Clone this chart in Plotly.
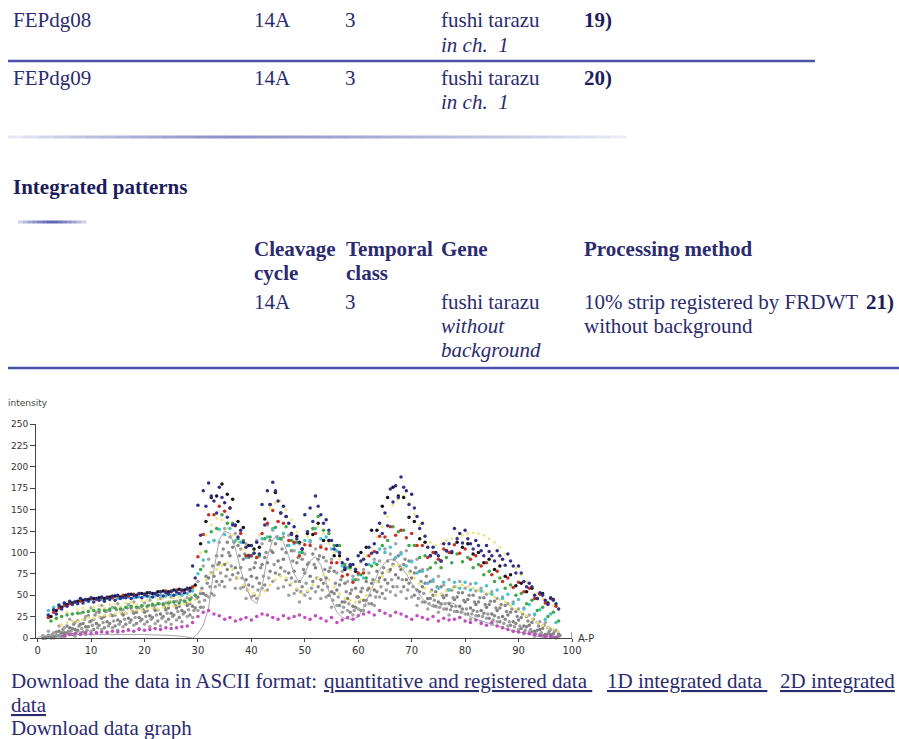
import plotly.graph_objects as go

W, H = 899, 739

# ---------------- data ----------------
X_POS = list(range(1, 98))            # A-P position sampled (% egg length)
X_POS_B = [p + 0.5 for p in X_POS]    # second set of nuclei positions
X_POS_C = [p + 0.25 for p in X_POS]   # third set of nuclei positions
X_POS_D = [p + 0.75 for p in X_POS]   # fourth set of nuclei positions

Y_TICKS = [0, 25, 50, 75, 100, 125, 150, 175, 200, 225, 250]
X_TICKS = [0, 10, 20, 30, 40, 50, 60, 70, 80, 90, 100]

NAVY_A = [None, 27, 33, 38, 41, 43, 42, 46, 45, 47,
          46, 48, 47, 49, 50, 48, 51, 50, 52, 51,
          53, 52, 54, 53, 55, 54, 56, 58, 84, 155,
          172, 181, 160, 176, 158, 152, 132, 126, 106, 108,
          112, 156, 172, 182, 160, 154, 134, 130, 112, 144,
          152, 166, 144, 138, 114, 108, 88, 92, 86, 96,
          92, 106, 110, 134, 146, 174, 178, 188, 172, 168,
          142, 134, 106, 106, 96, 110, 110, 128, 122, 126,
          110, 114, 102, 108, 96, 102, 92, 98, 84, 84,
          66, 64, 50, 53, 44, 47, 40]
NAVY_B = [None, None, 28, 34, 37, 39, 40, 41, 43, 42,
          44, 43, 45, 44, 46, 47, 46, 48, 47, 49,
          48, 50, 49, 51, 50, 52, 53, 55, 70, 120,
          154, 166, 146, 164, 141, 132, 118, 112, 96, 99,
          98, 132, 156, 172, 146, 142, 121, 116, 104, 124,
          136, 154, 134, 126, 104, 100, 82, 86, 80, 90,
          86, 99, 100, 122, 131, 159, 164, 176, 156, 152,
          128, 119, 96, 99, 90, 102, 101, 116, 111, 116,
          104, 108, 96, 101, 90, 96, 85, 90, 76, 76,
          60, 60, 46, 50, 39, 44, 34]
BLACK = [None, 25, 32, 36, 39, 41, 43, 44, 45, 46,
         47, 46, 48, 49, 48, 50, 51, 50, 52, 53,
         52, 54, 55, 54, 56, 57, 56, 58, 62, 110,
         136, 164, 166, 180, 168, 162, 136, 129, 108, 104,
         106, 139, 156, 170, 146, 142, 122, 119, 104, 122,
         121, 134, 114, 114, 96, 96, 80, 84, 78, 100,
         106, 126, 126, 154, 164, 176, 166, 164, 141, 136,
         116, 112, 96, 100, 90, 102, 100, 112, 106, 110,
         98, 100, 88, 92, 80, 84, 72, 74, 61, 64,
         54, 58, 46, 52, 41, 45, None]
RED = [None, 24, 30, 35, 38, 40, 42, 43, 45, 46,
       45, 47, 48, 47, 49, 50, 49, 51, 52, 51,
       53, 52, 54, 55, 54, 56, 55, 57, 60, 95,
       121, 144, 144, 154, 148, 152, 131, 122, 96, 96,
       94, 122, 134, 149, 136, 134, 114, 112, 96, 109,
       108, 122, 106, 104, 88, 88, 72, 74, 65, 76,
       76, 96, 101, 119, 118, 130, 120, 126, 117, 122,
       108, 108, 94, 100, 92, 104, 100, 109, 99, 104,
       92, 96, 84, 88, 74, 78, 66, 70, 59, 65,
       54, 58, 46, 51, 41, 46, 37]
GREEN = [None, 20, 23, 25, 27, 28, 29, 30, 31, 32,
         33, 32, 34, 35, 34, 36, 37, 36, 38, 37,
         39, 40, 39, 41, 42, 41, 43, 45, 50, 80,
         101, 124, 128, 144, 134, 134, 116, 114, 96, 99,
         96, 116, 118, 129, 116, 130, 114, 112, 100, 124,
         128, 142, 126, 122, 108, 108, 86, 82, 68, 74,
         70, 84, 86, 108, 114, 130, 124, 126, 108, 108,
         94, 96, 82, 88, 82, 94, 88, 98, 89, 94,
         82, 86, 74, 78, 66, 70, 58, 62, 50, 52,
         40, 44, 32, 36, 25, 30, 20]
CYAN = [None, 32, 36, 39, 41, 42, 43, 44, 44, 45,
        46, 45, 46, 47, 46, 47, 48, 47, 48, 49,
        48, 49, 50, 49, 50, 51, 50, 52, 55, 75,
        91, 112, 114, 127, 121, 128, 114, 112, 94, 96,
        94, 116, 118, 128, 116, 122, 108, 110, 100, 114,
        114, 128, 116, 118, 104, 102, 84, 82, 68, 74,
        70, 86, 88, 104, 100, 106, 94, 98, 84, 89,
        76, 78, 64, 68, 58, 65, 56, 65, 58, 65,
        56, 64, 55, 61, 51, 56, 46, 51, 40, 45,
        34, 39, 28, 33, 22, 28, 18]
YELLOW_A = [None, None, 22, 26, 30, 28, 33, 35, 32, 36,
            38, 35, 39, 40, 37, 41, 42, 39, 43, 44,
            41, 45, 46, 43, 47, 48, 45, 50, 60, 100,
            120, 132, 140, 138, 128, 120, 112, 104, 98, 102,
            120, 140, 152, 158, 160, 150, 138, 124, 112, 118,
            126, 130, 122, 110, 100, 92, 84, 80, 82, 88,
            96, 105, 118, 130, 142, 155, 162, 166, 158, 145,
            132, 120, 112, 108, 110, 114, 116, 118, 120, 122,
            123, 122, 120, 116, 112, 106, 98, 90, 82, 74,
            66, 58, 52, 46, 42, 38, 34]
YELLOW_B = [None, None, None, 15, 18, 20, 19, 22, 24, 23,
            25, 27, 26, 28, 30, 29, 31, 33, 32, 34,
            35, 34, 36, 38, 37, 39, 40, 42, 45, 55,
            68, 75, 80, 85, 88, 80, 70, 62, 56, 52,
            50, 55, 62, 68, 72, 70, 64, 58, 52, 55,
            62, 70, 74, 68, 60, 52, 46, 44, 42, 45,
            50, 58, 66, 72, 78, 84, 86, 82, 76, 70,
            64, 58, 54, 50, 52, 55, 58, 60, 62, 60,
            58, 56, 54, 52, 48, 45, 42, 38, 34, 30,
            26, 22, 18, 15, 12, 10, 8]
MAGENTA = [None, None, None, None, 3, 4, 5, 4, 6, 5,
           6, 7, 6, 8, 7, 8, 9, 8, 10, 9,
           10, 11, 10, 12, 11, 12, 13, 14, 18, 25,
           30, 32, 28, 26, 22, 24, 20, 22, 24, 21,
           25, 28, 27, 24, 22, 26, 23, 25, 27, 24,
           22, 26, 23, 20, 24, 18, 21, 24, 22, 26,
           28, 30, 27, 32, 29, 26, 30, 28, 25, 22,
           26, 24, 22, 25, 20, 23, 21, 22, 24, 20,
           18, 21, 17, 15, 18, 14, 12, 10, 8, 7,
           6, 5, 4, 3, 2, 2, 1]
GRAY_1 = [3, 8, 6, 14, 12, 22, 18, 29, 25, 35,
          30, 38, 32, 36, 40, 33, 39, 42, 35, 41,
          44, 38, 46, 41, 48, 43, 51, 47, 58, 66,
          84, 92, 114, 112, 128, 118, 122, 104, 110, 96,
          114, 110, 132, 126, 136, 118, 120, 102, 110, 98,
          112, 104, 108, 90, 92, 76, 78, 66, 72, 68,
          80, 76, 92, 90, 104, 98, 110, 100, 102, 90,
          92, 80, 80, 66, 72, 62, 68, 60, 66, 58,
          63, 55, 58, 51, 54, 46, 48, 40, 42, 34,
          35, 27, 27, 19, 18, 10, 9]
GRAY_2 = [1, 2, 7, 6, 14, 11, 20, 17, 26, 22,
          30, 25, 32, 27, 34, 29, 35, 30, 37, 32,
          38, 33, 40, 35, 42, 37, 44, 40, 50, 52,
          72, 76, 96, 96, 112, 106, 108, 92, 94, 82,
          96, 94, 114, 110, 116, 100, 102, 88, 92, 86,
          98, 92, 94, 78, 78, 62, 64, 52, 58, 54,
          66, 64, 78, 76, 90, 86, 96, 86, 90, 76,
          78, 64, 66, 54, 60, 50, 56, 48, 53, 45,
          50, 42, 47, 39, 43, 35, 38, 30, 31, 24,
          25, 18, 18, 11, 12, 5, 5]
GRAY_3 = [0, 3, 2, 8, 6, 12, 10, 16, 13, 20,
          17, 23, 19, 26, 21, 27, 23, 29, 24, 30,
          26, 32, 28, 33, 29, 35, 32, 38, 37, 48,
          52, 70, 72, 88, 86, 96, 82, 82, 68, 72,
          70, 86, 88, 100, 90, 92, 76, 78, 66, 76,
          72, 82, 68, 70, 54, 56, 42, 46, 37, 48,
          44, 58, 56, 70, 68, 80, 74, 80, 68, 70,
          56, 60, 46, 50, 42, 47, 40, 45, 37, 42,
          35, 39, 32, 36, 28, 32, 25, 27, 19, 21,
          14, 15, 8, 10, 4, 4, 1]
GRAY_4 = [0, 0, 3, 2, 6, 4, 9, 7, 13, 10,
          15, 12, 17, 14, 19, 16, 21, 17, 22, 19,
          24, 20, 25, 22, 27, 24, 30, 27, 35, 36,
          50, 52, 66, 66, 80, 74, 76, 60, 62, 50,
          64, 62, 78, 76, 82, 68, 70, 56, 60, 54,
          66, 60, 64, 50, 52, 38, 42, 30, 36, 32,
          44, 40, 54, 52, 64, 60, 70, 60, 64, 50,
          54, 42, 46, 37, 40, 34, 37, 31, 34, 28,
          32, 26, 29, 23, 26, 19, 22, 15, 17, 11,
          13, 7, 9, 3, 5, 1, 2]
GRAY_5 = [0, 1, 0, 2, 1, 4, 2, 6, 4, 8,
          6, 10, 7, 12, 9, 13, 10, 15, 11, 16,
          13, 17, 14, 19, 16, 21, 19, 25, 24, 32,
          36, 48, 50, 62, 60, 68, 58, 58, 46, 48,
          46, 58, 56, 66, 58, 60, 50, 52, 42, 50,
          46, 54, 46, 48, 36, 38, 30, 32, 27, 34,
          32, 40, 38, 48, 46, 54, 50, 54, 46, 48,
          38, 42, 34, 38, 30, 34, 27, 31, 24, 28,
          22, 26, 19, 23, 16, 19, 12, 14, 8, 10,
          5, 7, 2, 4, 1, 1, 0]
GRAY_6 = [1, 4, 3, 10, 8, 16, 14, 22, 19, 27,
          24, 31, 27, 33, 29, 35, 31, 36, 33, 38,
          35, 40, 36, 42, 38, 44, 41, 47, 46, 58,
          64, 84, 86, 104, 100, 112, 96, 98, 80, 88,
          82, 100, 102, 118, 104, 108, 90, 94, 80, 88,
          86, 96, 80, 82, 64, 68, 54, 56, 48, 58,
          56, 68, 66, 82, 78, 92, 84, 92, 78, 82,
          66, 72, 56, 60, 50, 56, 47, 53, 44, 50,
          42, 47, 39, 43, 35, 39, 31, 34, 25, 28,
          20, 22, 14, 15, 8, 8, 3]
GRAY_7 = [0, 1, 1, 4, 3, 8, 6, 11, 9, 15,
          12, 18, 14, 20, 16, 22, 18, 24, 20, 25,
          22, 27, 23, 29, 25, 31, 28, 33, 32, 42,
          44, 60, 60, 76, 72, 84, 70, 70, 56, 60,
          56, 72, 70, 86, 74, 78, 62, 66, 54, 64,
          58, 70, 56, 60, 44, 48, 36, 40, 32, 42,
          38, 50, 48, 60, 56, 68, 60, 68, 56, 60,
          46, 52, 40, 44, 36, 40, 33, 37, 30, 34,
          28, 31, 25, 28, 21, 24, 17, 19, 13, 14,
          9, 10, 5, 6, 2, 2, 1]

# integrated profile (thin grey line)
LINE_X = [0, 2, 5, 10, 15, 20, 25, 27, 29,
          30, 31, 32, 33, 34, 35, 36, 37, 38, 39,
          40, 41, 42, 43, 44, 45, 46, 47, 48, 49,
          50, 51, 52, 53, 54, 55, 56, 57, 58, 59,
          60, 61, 62, 63, 64, 65, 66, 67, 68, 69,
          70, 71, 72, 73, 74, 75, 76, 77, 78, 79,
          80, 82, 84, 86, 88, 90, 92, 94, 95]
LINE_Y = [1, 3, 4, 4, 4, 4, 3, 2, 0,
          5, 15, 35, 80, 115, 125, 122, 105, 80, 60,
          45, 40, 60, 95, 115, 120, 112, 95, 75, 65,
          75, 90, 95, 85, 65, 45, 30, 24, 22, 22,
          25, 35, 50, 65, 80, 88, 92, 90, 84, 75,
          64, 55, 46, 40, 36, 35, 40, 42, 40, 35,
          28, 22, 18, 14, 10, 7, 4, 1, 0]

for name, arr in [("NAVY_A", NAVY_A), ("NAVY_B", NAVY_B), ("BLACK", BLACK), ("RED", RED),
                  ("GREEN", GREEN), ("CYAN", CYAN), ("YELLOW_A", YELLOW_A), ("YELLOW_B", YELLOW_B),
                  ("MAGENTA", MAGENTA), ("GRAY_1", GRAY_1), ("GRAY_2", GRAY_2), ("GRAY_3", GRAY_3),
                  ("GRAY_4", GRAY_4), ("GRAY_5", GRAY_5), ("GRAY_6", GRAY_6), ("GRAY_7", GRAY_7)]:
    assert len(arr) == len(X_POS), (name, len(arr))
assert len(LINE_X) == len(LINE_Y), (len(LINE_X), len(LINE_Y))

# ---------------- figure ----------------
fig = go.Figure()

def dots(xs, ys, color, size=3.5, opacity=1.0):
    fig.add_trace(go.Scatter(x=xs, y=ys, mode="markers", cliponaxis=False,
                             marker=dict(color=color, size=size, opacity=opacity, line=dict(width=0)),
                             hoverinfo="skip"))

dots(X_POS_C, GRAY_7, "#9c9c9c")
dots(X_POS, GRAY_5, "#a2a2a2")
dots(X_POS_B, GRAY_4, "#8a8a8a")
dots(X_POS, GRAY_3, "#7e7e7e")
dots(X_POS_D, GRAY_6, "#909090")
dots(X_POS_B, GRAY_2, "#868686")
dots(X_POS, GRAY_1, "#a4a4a4")
fig.add_trace(go.Scatter(x=LINE_X, y=LINE_Y, mode="lines", cliponaxis=False,
                         line=dict(color="#a6a6a6", width=1), hoverinfo="skip"))
dots(X_POS_B, YELLOW_B, "#ece27a", size=3)
dots(X_POS, MAGENTA, "#c24cc0")
dots(X_POS_B, YELLOW_A, "#f0e68a", size=3)
dots(X_POS, CYAN, "#44c3d2")
dots(X_POS_B, GREEN, "#3da845")
dots(X_POS, RED, "#cc2e22")
dots(X_POS_B, BLACK, "#161616")
dots(X_POS_B, NAVY_B, "#35358f")
dots(X_POS, NAVY_A, "#2c2c86")

fig.update_xaxes(domain=[36 / W, 572 / W], range=[-0.3, 100], tickvals=X_TICKS,
                 ticktext=[str(t) for t in X_TICKS], showgrid=False, zeroline=False,
                 showline=True, linecolor="#444444", linewidth=1, ticks="outside",
                 ticklen=3, tickcolor="#444444", automargin=False,
                 tickfont=dict(family="DejaVu Sans", size=10, color="#333333"))
fig.update_yaxes(domain=[(H - 638) / H, (H - 424) / H], range=[0, 250], tickvals=Y_TICKS,
                 ticktext=[str(t) for t in Y_TICKS], showgrid=False, zeroline=False,
                 showline=True, linecolor="#444444", linewidth=1, ticks="outside",
                 ticklen=5, tickcolor="#444444", automargin=False,
                 tickfont=dict(family="DejaVu Sans", size=9, color="#333333"))

# ---------------- page text ----------------
NAVY = "#2b2b70"
DARK = "#1d1d5c"
SERIF = "Liberation Serif, Times New Roman, serif"
ann = []

def txt(x, baseline, s, size=21, color=NAVY, family=SERIF):
    ann.append(dict(x=x / W, y=1 - (baseline - 0.3375 * size) / H, xref="paper", yref="paper",
                    xanchor="left", yanchor="middle", text=s, showarrow=False,
                    font=dict(family=family, size=size, color=color)))

NB = "\u00a0"
# row FEPdg08
txt(11, 27, "FEPdg08"); txt(252, 27, "14A"); txt(343, 27, "3")
txt(439, 27, "fushi tarazu"); txt(582, 27, "<b>19)</b>", color=DARK)
txt(439, 52, "<i>in ch." + NB + NB + "1</i>")
# row FEPdg09
txt(11, 85, "FEPdg09"); txt(252, 85, "14A"); txt(343, 85, "3")
txt(439, 85, "fushi tarazu"); txt(582, 85, "<b>20)</b>", color=DARK)
txt(439, 109, "<i>in ch." + NB + NB + "1</i>")
# integrated patterns
txt(11, 194, "<b>Integrated patterns</b>", color=DARK)
txt(252, 256, "<b>Cleavage</b>"); txt(344, 256, "<b>Temporal</b>")
txt(439, 256, "<b>Gene</b>"); txt(582, 256, "<b>Processing method</b>")
txt(252, 280, "<b>cycle</b>"); txt(344, 280, "<b>class</b>")
txt(252, 309, "14A"); txt(343, 309, "3"); txt(439, 309, "fushi tarazu")
txt(582, 309, "10% strip registered by FRDWT"); txt(864, 309, "<b>21)</b>", color=DARK)
txt(439, 333, "<i>without</i>"); txt(582, 333, "without background")
txt(439, 357, "<i>background</i>")
# downloads
txt(9, 688, "Download the data in ASCII format: ")
txt(322, 688, "<u>quantitative and registered data" + NB + "</u>")
txt(605, 688, "<u>1D integrated data" + NB + "</u>")
txt(778, 688, "<u>2D integrated</u>")
txt(9, 712, "<u>data</u>")
txt(9, 735, "Download data graph")

# chart labels
ann.append(dict(x=28 / W, y=1 - 403 / H, xref="paper", yref="paper", xanchor="center",
                yanchor="middle", text="intensity", showarrow=False,
                font=dict(family="DejaVu Sans", size=9, color="#444444")))
ann.append(dict(x=576 / W, y=1 - 638 / H, xref="paper", yref="paper", xanchor="left",
                yanchor="middle", text="A-P", showarrow=False,
                font=dict(family="DejaVu Sans", size=10, color="#333333")))

# ---------------- rules ----------------
shapes = []

def hline(x0, x1, y, color, width):
    shapes.append(dict(type="line", xref="paper", yref="paper", x0=x0 / W, x1=x1 / W,
                       y0=1 - y / H, y1=1 - y / H, line=dict(color=color, width=width)))

def mix(c1, c2, t):
    a = [int(c1[i:i + 2], 16) for i in (1, 3, 5)]
    b = [int(c2[i:i + 2], 16) for i in (1, 3, 5)]
    return "#" + "".join("%02x" % round(a[k] + (b[k] - a[k]) * t) for k in range(3))

def grad_line(x0, x1, y, light, dark, peak, width, n=40):
    step = (x1 - x0) / n
    for i in range(n):
        f = (i + 0.5) / n
        t = f / peak if f < peak else (1 - f) / (1 - peak)
        hline(x0 + i * step, x0 + (i + 1) * step + 0.5, y, mix(light, dark, t ** 0.7), width)

hline(8, 815, 61, "#4c52aa", 2.5)
grad_line(8, 626, 137, "#f2f2fa", "#8d90c8", 0.35, 3)
grad_line(18, 86, 222, "#e6e6f4", "#5a60b0", 0.5, 3, n=14)
hline(8, 899, 368, "#4c52aa", 2.5)
# end tick at 100 on the A-P axis
shapes.append(dict(type="line", xref="x", yref="y", x0=100, x1=100, y0=0, y1=7,
                   line=dict(color="#444444", width=1)))

fig.update_layout(width=W, height=H, margin=dict(l=0, r=0, t=0, b=0, autoexpand=False),
                  paper_bgcolor="white", plot_bgcolor="white", showlegend=False,
                  annotations=ann, shapes=shapes)

fig.write_html("out.html", config={"displayModeBar": False},
               post_script="document.body.style.margin='0';document.body.style.overflow='hidden';")
